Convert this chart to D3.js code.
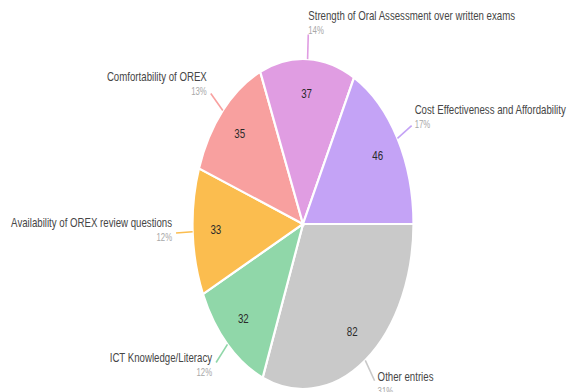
<!DOCTYPE html>
<html><head><meta charset="utf-8">
<script src="https://cdn.jsdelivr.net/npm/d3@7"></script>
<style>
html,body{margin:0;padding:0;background:#fff;}
svg{display:block;}
text{font-family:"Liberation Sans",Arial,sans-serif;}
</style>
</head><body>
<svg id="chart" width="567" height="392"></svg>
<script>
// Data (clockwise order starting at 3 o'clock)
const categories = ["Other entries","ICT Knowledge/Literacy","Availability of OREX review questions","Comfortability of OREX","Strength of Oral Assessment over written exams","Cost Effectiveness and Affordability"];
const values = [82, 32, 33, 35, 37, 46];
const colors = ["#c9c9c9","#90d7a9","#fbbd4f","#f8a09f","#e09de2","#c4a3f6"];

const W = 567, H = 392;
const cx = 303, cy = 224, rx = 110.5, ry = 165;
const condense = 0.78;
const svg = d3.select("#chart");

const total = d3.sum(values);
const pie = d3.pie().sort(null).value(d => d).startAngle(Math.PI/2).endAngle(Math.PI/2 + 2*Math.PI);
const arcs = pie(values);
const arc = d3.arc().innerRadius(0).outerRadius(ry);

const g = svg.append("g").attr("transform", `translate(${cx},${cy}) scale(${rx/ry},1)`);
g.selectAll("path").data(arcs).join("path")
  .attr("d", arc)
  .attr("fill", (d,i) => colors[i])
  .attr("stroke", "#fff")
  .attr("stroke-width", 2.2)
  .attr("vector-effect", "non-scaling-stroke");

function pt(a, k){ return [cx + rx*k*Math.sin(a), cy - ry*k*Math.cos(a)]; }

function narrowText(parent, x, y, str, size, fill, anchor){
  parent.append("g").attr("transform", `translate(${x},${y}) scale(${condense},1)`)
    .append("text").attr("x", 0).attr("y", 0)
    .attr("text-anchor", anchor).attr("font-size", size).attr("fill", fill)
    .text(str);
}

// value labels
const vl = svg.append("g");
arcs.forEach((d,i) => {
  const p = pt((d.startAngle+d.endAngle)/2, 0.79);
  narrowText(vl, p[0], p[1] + 4, d.data, 12.5, "#2a2a2a", "middle");
});

// leader lines and outer labels
const lab = svg.append("g");
arcs.forEach((d,i) => {
  const a = (d.startAngle + d.endAngle)/2;
  const p0 = pt(a, 1.0), p1 = pt(a, 1.15);
  lab.append("line")
    .attr("x1", p0[0]).attr("y1", p0[1]).attr("x2", p1[0]).attr("y2", p1[1])
    .attr("stroke", colors[i]).attr("stroke-width", 1.6);
  const s = Math.sin(a), c = Math.cos(a);
  const right = s > 0;
  const dx = Math.abs(s) < 0.2 ? 0 : (right ? 3 : -4);
  const dy = c > 0.9 ? -14 : (c > 0.3 ? -12 : (c < -0.3 ? 0 : -6));
  const anchor = right ? "start" : "end";
  narrowText(lab, p1[0] + dx, p1[1] + dy, categories[i], 12.4, "#464646", anchor);
  narrowText(lab, p1[0] + dx, p1[1] + dy + 14, Math.round(values[i]/total*100) + "%", 10, "#a8a8a8", anchor);
});
</script>
</body></html>
